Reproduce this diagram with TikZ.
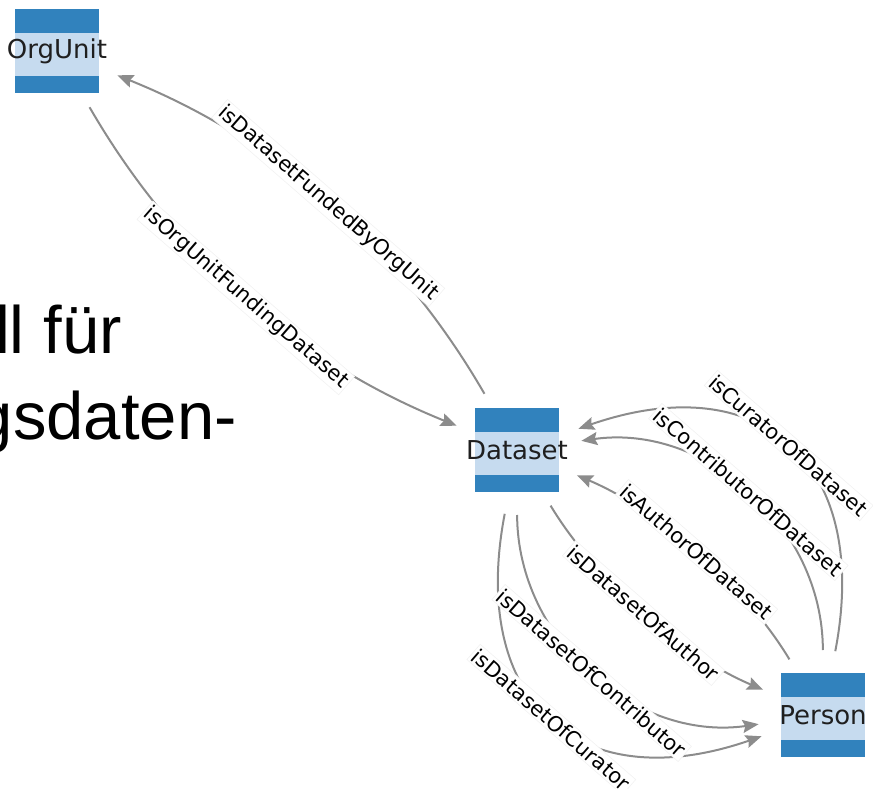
\documentclass[tikz,border=0pt]{standalone}
\usepackage{fontspec}
\newfontfamily\dejavu{DejaVu Sans}
\newfontfamily\slidefont{Liberation Sans}
\usetikzlibrary{arrows.meta}
\definecolor{bandblue}{HTML}{3182BD}
\definecolor{bandlight}{HTML}{C6DBEF}
\definecolor{linkgray}{HTML}{8C8C8C}

\begin{document}
\begin{tikzpicture}[x=1pt, y=-1pt, line width=2pt,
  entity/.style={circle, minimum size=130pt, inner sep=0pt, outer sep=0pt, text=black!88,
    font=\dejavu\fontsize{26}{30}\selectfont,
    path picture={
      \fill[bandblue] ([shift={(-42pt,42pt)}]path picture bounding box.center) rectangle ([shift={(42pt,-42pt)}]path picture bounding box.center);
      \fill[bandlight] ([shift={(-42pt,18pt)}]path picture bounding box.center) rectangle ([shift={(42pt,-25pt)}]path picture bounding box.center);
    }},
  link/.style={draw=linkgray, -{Stealth[length=16pt, width=13pt, inset=2.5pt]}},
  rel/.style={fill=white, draw=black!5, line width=0.6pt, inner sep=2pt, rotate=-41, text=black,
    font=\dejavu\fontsize{21}{24}\selectfont},
  slide/.style={anchor=base east, text=black, font=\slidefont\fontsize{67}{72}\selectfont}]
            \useasboundingbox (0,0) rectangle (873,789);

            % Slide text behind the graph
            \node[slide] (line1) at (126,353) {ll für};
            \node[slide] (line2) at (241,439) {gsdaten-};
            \node[slide] (line3) at (9,523) {.};

            % Classes
            \node[entity] (orgunit) at (57,51) {OrgUnit};
            \node[entity] (dataset) at (517,450) {Dataset};
            \node[entity] (person) at (823,715) {Person};

            % Funding relations
            \draw[link] (dataset) to[bend right=19, looseness=0.9] node[rel] {isDatasetFundedByOrgUnit} (orgunit);
            \draw[link] (orgunit) to[bend right=19, looseness=0.9] node[rel] {isOrgUnitFundingDataset} (dataset);

            % Person -> Dataset
            \draw[link] (person) to[bend right=60, looseness=1.45] node[rel] {isCuratorOfDataset} (dataset);
            \draw[link] (person) to[bend right=49] node[rel] {isContributorOfDataset} (dataset);
            \draw[link] (person) to[bend right=18, looseness=0.8] node[rel] {isAuthorOfDataset} (dataset);

            % Dataset -> Person
            \draw[link] (dataset) to[bend right=60, looseness=1.45] node[rel] {isDatasetOfCurator} (person);
            \draw[link] (dataset) to[bend right=49] node[rel] {isDatasetOfContributor} (person);
            \draw[link] (dataset) to[bend right=18, looseness=0.8] node[rel] {isDatasetOfAuthor} (person);
\end{tikzpicture}
\end{document}
